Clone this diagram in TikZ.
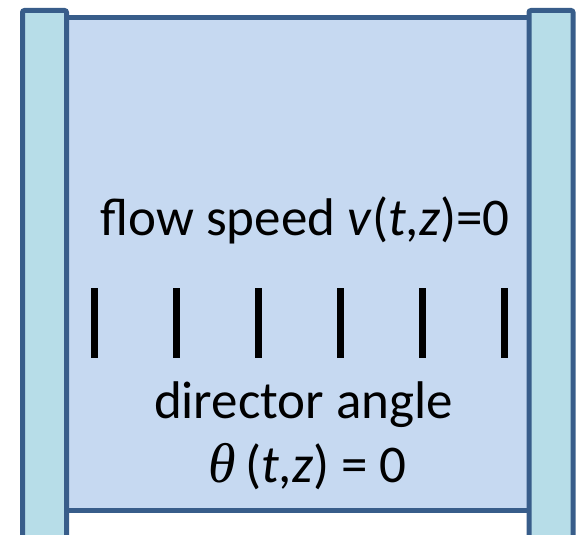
\documentclass[tikz,border=0pt]{standalone}
\usepackage{fontspec}
\setmainfont{Carlito}
\newfontfamily\thetafont{Liberation Serif}
\definecolor{edge}{HTML}{385D8A}
\definecolor{cellfill}{HTML}{C6D9F1}
\definecolor{platefill}{HTML}{B7DDE8}
\tikzset{
  plate/.style={draw=edge, fill=platefill, line width=5pt, rounded corners=2pt},
  cell/.style={draw=edge, fill=cellfill, line width=5pt},
  rod/.style={line width=7pt, black},
  label/.style={font=\fontsize{53}{60}\selectfont, anchor=base, inner sep=0pt}
}
\begin{document}
\begin{tikzpicture}[x=1pt,y=-1pt]
\useasboundingbox (0,0) rectangle (579,535);
\clip (0,0) rectangle (579,535);
\path[cell] (66.5,17.5) rectangle (529,510.5);
\path[plate] (22.5,10.5) rectangle (66.5,545);
\path[plate] (529,10.5) rectangle (573,545);
\foreach \x/\n in {94.5/1,176.5/2,258.5/3,340.5/4,422.5/5,504.5/6}
  \draw[rod] (\x,288) coordinate (r\n top) -- (\x,358) coordinate (r\n bot);
\node[label] (flow) at (305,235) {flow speed \textit{v}(\textit{t},\textit{z})=0};
\node[label] (dir) at (303.5,418) {director angle};
\node[label] (theta) at (307.5,482) {{\thetafont\itshape\fontsize{56}{60}\selectfont θ}\hspace{9pt}(\textit{t},\textit{z}) = 0};
\end{tikzpicture}
\end{document}
